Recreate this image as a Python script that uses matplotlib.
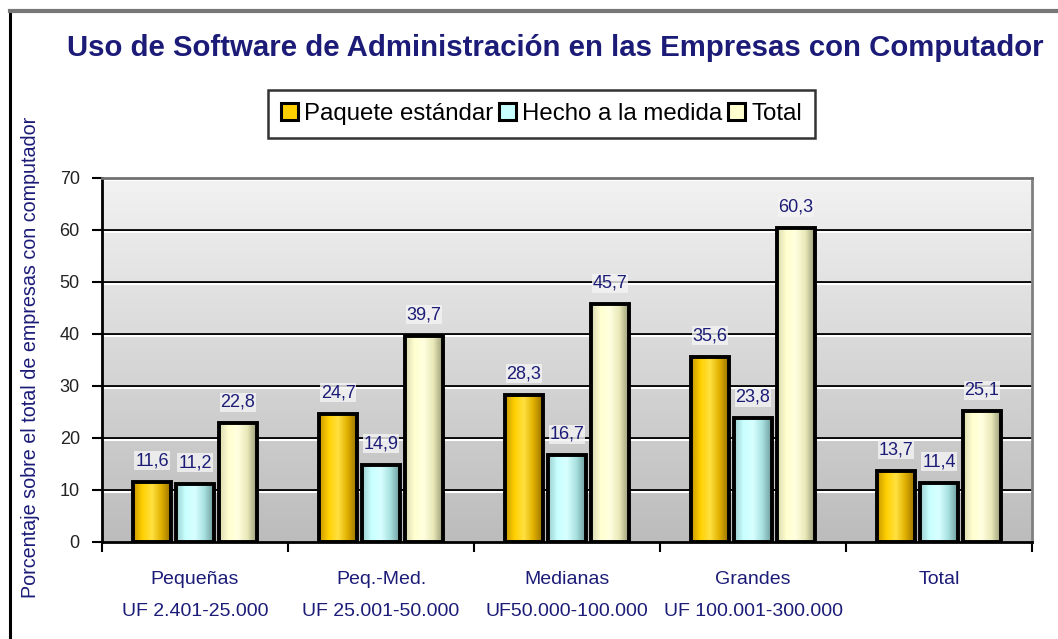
import numpy as np
import matplotlib
matplotlib.use("Agg")
import matplotlib.pyplot as plt
from matplotlib.patches import Patch, Rectangle
from matplotlib.colors import LinearSegmentedColormap
from matplotlib.lines import Line2D

# ---- data ----
categories = ["Pequeñas\nUF 2.401-25.000", "Peq.-Med.\nUF 25.001-50.000",
              "Medianas\nUF50.000-100.000", "Grandes\nUF 100.001-300.000", "Total"]
series_names = ["Paquete estándar", "Hecho a la medida", "Total"]
paquete = [11.6, 24.7, 28.3, 35.6, 13.7]
hecho = [11.2, 14.9, 16.7, 23.8, 11.4]
total = [22.8, 39.7, 45.7, 60.3, 25.1]
labels_paquete = ["11,6", "24,7", "28,3", "35,6", "13,7"]
labels_hecho = ["11,2", "14,9", "16,7", "23,8", "11,4"]
labels_total = ["22,8", "39,7", "45,7", "60,3", "25,1"]
yticks = [0, 10, 20, 30, 40, 50, 60, 70]

NAVY = "#1c1c78"
plt.rcParams['font.family'] = ['Liberation Sans', 'DejaVu Sans']

fig = plt.figure(figsize=(10.58, 6.39), dpi=100)
ax = fig.add_axes([102/1058, 1-542/639, (1032-102)/1058, (542-178)/639])

n = len(categories)
x = np.arange(n)
ax.set_xlim(-0.5, n-0.5)
ax.set_ylim(0, 70)

# background gradient
bg = np.linspace(0, 1, 256).reshape(-1, 1)
bg_cmap = LinearSegmentedColormap.from_list("bg", ["#bcbcbc", "#f2f2f2"])
ax.imshow(bg, aspect='auto', cmap=bg_cmap, extent=(-0.5, n-0.5, 0, 70),
          origin='lower', zorder=0)

# grid lines: black with white highlight below
for t in yticks[1:-1]:
    ax.axhline(t, color='black', lw=2.0, zorder=1)
    ax.axhline(t - 0.45, color='white', lw=1.5, zorder=1)
ax.axhline(70 - 0.45, color='white', lw=1.5, zorder=1)

cmaps = [
    LinearSegmentedColormap.from_list("y", ["#c89600", "#ffd000", "#ffe040", "#e0b000", "#987000"]),
    LinearSegmentedColormap.from_list("b", ["#9ccccc", "#c8ffff", "#d8ffff", "#a8e0e0", "#6e9a9a"]),
    LinearSegmentedColormap.from_list("t", ["#d8d8b0", "#ffffd0", "#ffffe0", "#e8e8b8", "#9a9a78"]),
]

offsets = [-0.231, 0.0, 0.231]
width = 0.2
grad = np.linspace(0, 1, 256).reshape(1, -1)
all_vals = [paquete, hecho, total]
all_labels = [labels_paquete, labels_hecho, labels_total]
for si, (vals, labs) in enumerate(zip(all_vals, all_labels)):
    bars = ax.bar(x + offsets[si], vals, width=width, facecolor='none',
                  edgecolor='black', linewidth=2.8, zorder=3)
    for b, lab in zip(bars, labs):
        x0, w, h = b.get_x(), b.get_width(), b.get_height()
        im = ax.imshow(grad, aspect='auto', cmap=cmaps[si],
                       extent=(x0, x0 + w, 0, h), zorder=2)
        clip = Rectangle((x0, 0), w, h, transform=ax.transData)
        im.set_clip_path(clip)
        ax.annotate(lab, (x0 + w/2, h), xytext=(0, 9), textcoords='offset points',
                    ha='center', va='bottom', fontsize=13, color=NAVY, zorder=5,
                    bbox=dict(boxstyle='square,pad=0.05', fc='#f4f4f4', ec='none', alpha=0.8))

ax.set_xlim(-0.5, n-0.5)
ax.set_ylim(0, 70)

# spines
ax.spines['left'].set_color('black')
ax.spines['left'].set_linewidth(2)
ax.spines['bottom'].set_color('black')
ax.spines['bottom'].set_linewidth(2)
ax.spines['top'].set_color('#707070')
ax.spines['top'].set_linewidth(2)
ax.spines['right'].set_color('#808080')
ax.spines['right'].set_linewidth(2)

ax.set_yticks(yticks)
ax.set_yticklabels([str(t) for t in yticks], fontsize=13, color='#222222')
ax.tick_params(axis='y', length=7, width=1.5, color='black', pad=9)

ax.set_xticks(np.arange(-0.5, n, 1.0), minor=False)
ax.set_xticklabels([])
ax.tick_params(axis='x', length=7, width=1.5, color='black')
ax.set_xticks(x, minor=True)
ax.set_xticklabels(categories, minor=True, fontsize=14, color=NAVY, linespacing=2.15)
ax.tick_params(axis='x', which='minor', length=0, pad=21)

ax.set_ylabel("Porcentaje sobre el total de empresas con computador", fontsize=14.2,
              color=NAVY)
ax.yaxis.set_label_coords(-0.0667, 0.508)

fig.text(0.525, 0.925, "Uso de Software de Administración en las Empresas con Computador",
         ha='center', va='center', fontsize=21.2, fontweight='bold', color=NAVY)

legend_colors = ["#ffd000", "#c8ffff", "#ffffd0"]
handles = [Patch(facecolor=c, edgecolor='black', linewidth=2.2) for c in legend_colors]
leg = fig.legend(handles, series_names, loc='center', bbox_to_anchor=(0.512, 0.822),
                 ncol=3, fontsize=17.3, frameon=True, fancybox=False, edgecolor='black',
                 handlelength=0.7, handleheight=0.7, handletextpad=0.25,
                 columnspacing=0.25, borderpad=0.55)
leg.get_frame().set_linewidth(1.8)

# outer frame
fig.add_artist(Line2D([10/1058, 10/1058], [0, 1-11/639], color='black', lw=2.2,
                      transform=fig.transFigure))
fig.add_artist(Line2D([10/1058, 1], [1-11/639, 1-11/639], color='#777777', lw=3,
                      transform=fig.transFigure))

fig.savefig("out.png", dpi=100)
